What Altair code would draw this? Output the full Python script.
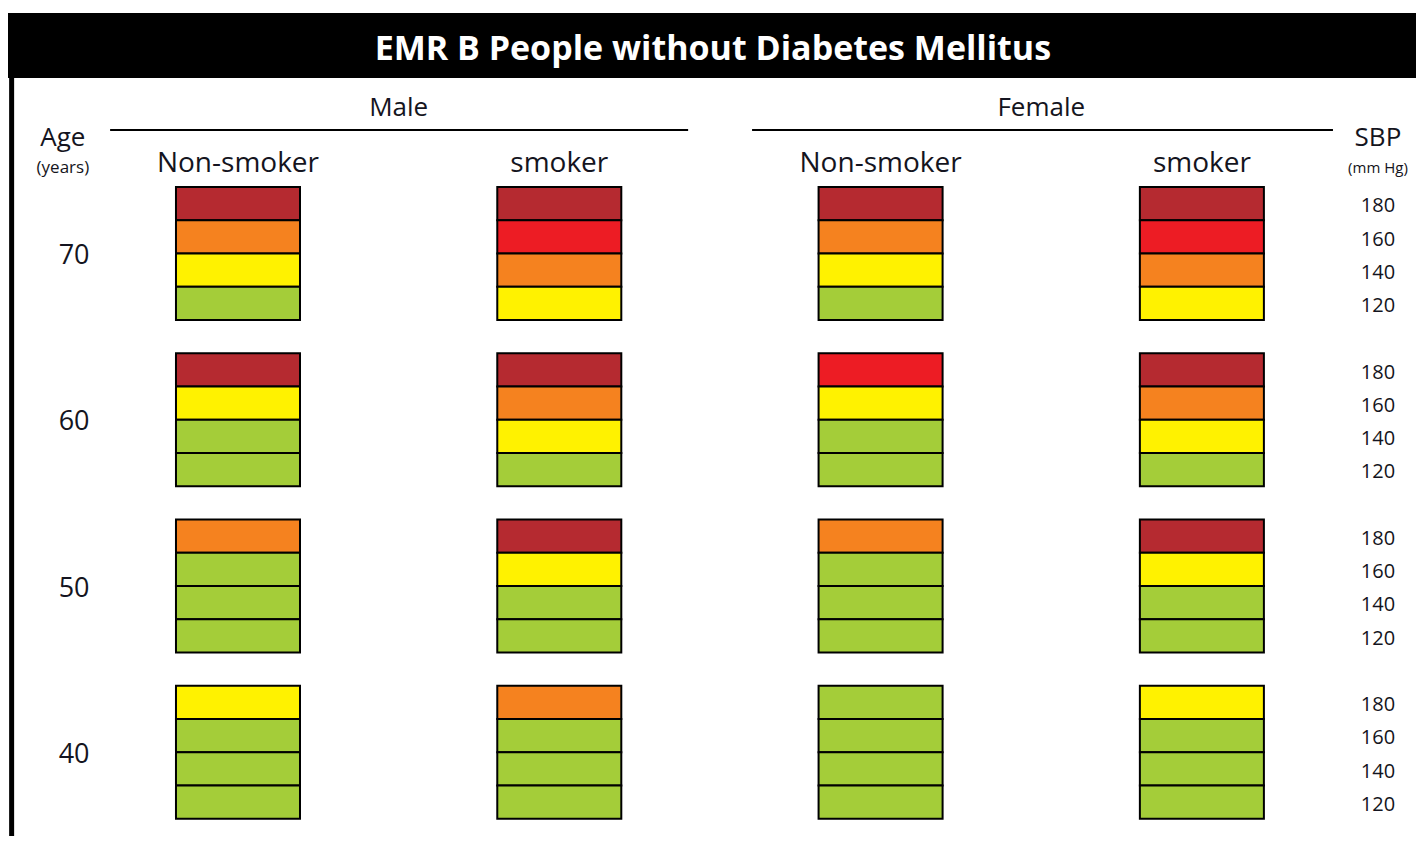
import altair as alt
import pandas as pd

# ---------------- data ----------------
ages = [70, 60, 50, 40]
sbp_levels = [180, 160, 140, 120]
sexes = ["Male", "Female"]
panel_sex = ["Male", "Male", "Female", "Female"]
panel_smoking = ["Non-smoker", "smoker", "Non-smoker", "smoker"]
# risk level per cell (rows: age 70,60,50,40; cols: SBP 180,160,140,120)
# 1: <10%  2: 10-<20%  3: 20-<30%  4: 30-<40%  5: >=40%
male_non_smoker = [[5, 3, 2, 1], [5, 2, 1, 1], [3, 1, 1, 1], [2, 1, 1, 1]]
male_smoker = [[5, 4, 3, 2], [5, 3, 2, 1], [5, 2, 1, 1], [3, 1, 1, 1]]
female_non_smoker = [[5, 3, 2, 1], [4, 2, 1, 1], [3, 1, 1, 1], [1, 1, 1, 1]]
female_smoker = [[5, 4, 3, 2], [5, 3, 2, 1], [5, 2, 1, 1], [2, 1, 1, 1]]
panels = [male_non_smoker, male_smoker, female_non_smoker, female_smoker]
risk_levels = [1, 2, 3, 4, 5]
title_text = "EMR B People without Diabetes Mellitus"

# ---------------- styles / layout ----------------
risk_colors = ["#A4CD39", "#FFF200", "#F5821F", "#ED1C24", "#B52A30"]
FONT = "Open Sans"
TXT = "#141420"
HALF = 0.193          # half block width in column units
GROUP = 5             # rows per age group (4 cells + gap)
DY = 0.08             # small text baseline correction
W, H = 1408, 828
X_DOM = [-0.7158, 3.6664]
Y_DOM = [-5.383, 19.519]

rows = []
for p, grid in enumerate(panels):
    for a, age in enumerate(ages):
        for s, sbp in enumerate(sbp_levels):
            r = a * GROUP + s
            rows.append(dict(sex=panel_sex[p], smoking=panel_smoking[p], age=age, sbp=sbp,
                             risk=grid[a][s], x0=p - HALF, x1=p + HALF, y0=r, y1=r + 1))
cells = pd.DataFrame(rows)

xs = alt.Scale(domain=X_DOM, nice=False, zero=False)
ys = alt.Scale(domain=Y_DOM, nice=False, zero=False, reverse=True)

cell_layer = alt.Chart(cells).mark_rect(stroke="black", strokeWidth=2).encode(
    x=alt.X("x0:Q", scale=xs, axis=None), x2="x1",
    y=alt.Y("y0:Q", scale=ys, axis=None), y2="y1",
    color=alt.Color("risk:O", scale=alt.Scale(domain=risk_levels, range=risk_colors), legend=None),
)

# title bar
bar = pd.DataFrame([dict(x0=X_DOM[0], x1=X_DOM[1], y0=-5.233, y1=-3.278)])
bar_layer = alt.Chart(bar).mark_rect(color="black").encode(
    x=alt.X("x0:Q", scale=xs, axis=None), x2="x1",
    y=alt.Y("y0:Q", scale=ys, axis=None), y2="y1")
title_df = pd.DataFrame([dict(u=1.478, v=-4.21 + DY, text=title_text)])
title_layer = alt.Chart(title_df).mark_text(font=FONT, fontWeight="bold", fontSize=34,
                                            color="white", baseline="middle", align="center").encode(
    x=alt.X("u:Q", scale=xs, axis=None), y=alt.Y("v:Q", scale=ys, axis=None), text="text:N")

# left border
border = pd.DataFrame([dict(u=-0.7045, v0=-3.35, v1=Y_DOM[1])])
border_layer = alt.Chart(border).mark_rule(color="black", strokeWidth=5).encode(
    x=alt.X("u:Q", scale=xs, axis=None), y=alt.Y("v0:Q", scale=ys, axis=None), y2="v1")

# header lines
hl = pd.DataFrame([dict(x0=-0.398, x1=1.401, v=-1.714), dict(x0=1.600, x1=3.408, v=-1.714)])
hl_layer = alt.Chart(hl).mark_rule(color="black", strokeWidth=2).encode(
    x=alt.X("x0:Q", scale=xs, axis=None), x2="x1", y=alt.Y("v:Q", scale=ys, axis=None))

# text labels
labels = []
for i, sx in enumerate(sexes):
    labels.append(dict(u=0.5 + 2 * i, v=-2.47 + DY, text=sx, size=26))
for p, sm in enumerate(panel_smoking):
    labels.append(dict(u=p, v=-0.78 + DY, text=sm, size=28))
labels.append(dict(u=-0.545, v=-1.56 + DY, text="Age", size=26))
labels.append(dict(u=-0.545, v=-0.66 + DY, text="(years)", size=17))
labels.append(dict(u=3.548, v=-1.56 + DY, text="SBP", size=26))
labels.append(dict(u=3.548, v=-0.66 + DY, text="(mm Hg)", size=15))
for a, age in enumerate(ages):
    labels.append(dict(u=-0.51, v=a * GROUP + 2 + DY, text=str(age), size=27))
    for s, sbp in enumerate(sbp_levels):
        labels.append(dict(u=3.548, v=a * GROUP + s + 0.5 + DY, text=str(sbp), size=20))
lab = pd.DataFrame(labels)
lab_layer = alt.Chart(lab).mark_text(font=FONT, color=TXT, baseline="middle", align="center").encode(
    x=alt.X("u:Q", scale=xs, axis=None), y=alt.Y("v:Q", scale=ys, axis=None),
    text="text:N", size=alt.Size("size:Q", scale=None, legend=None))

chart = alt.layer(bar_layer, title_layer, border_layer, hl_layer, cell_layer, lab_layer).properties(
    width=W, height=H, padding=0, autosize=alt.AutoSizeParams(type="none"),
    background="white").configure_view(stroke=None)

chart.save("out.html", embed_options={"renderer": "svg", "actions": False})
